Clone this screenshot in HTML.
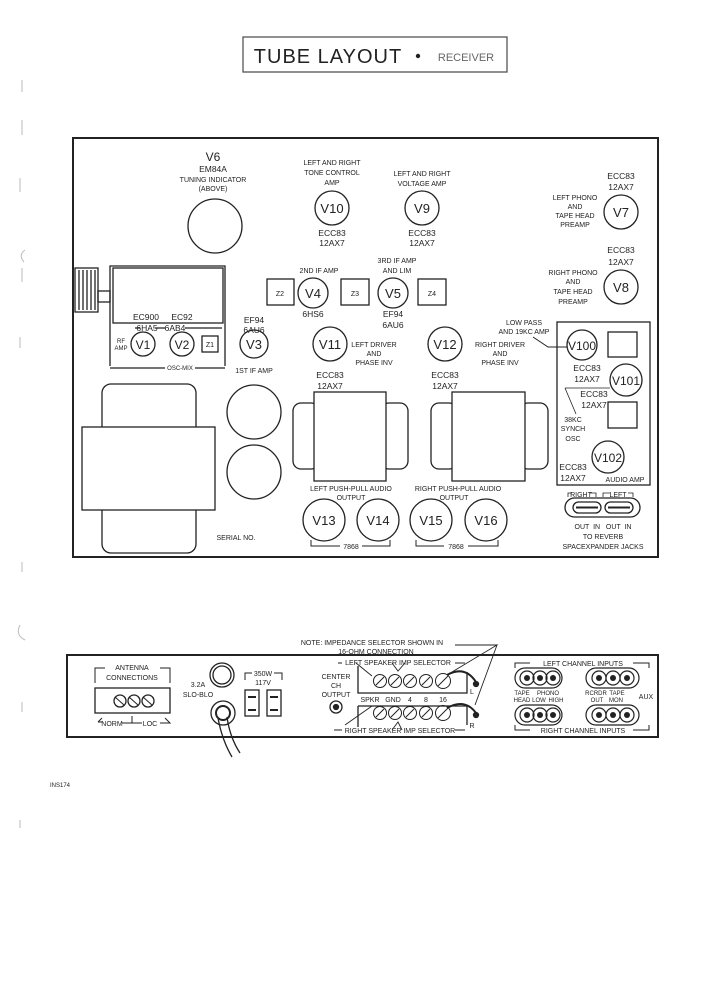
<!DOCTYPE html>
<html><head><meta charset="utf-8"><style>
html,body{margin:0;padding:0;background:#fff;}
svg{display:block;}
text{font-family:"Liberation Sans",sans-serif;fill:#222;text-anchor:middle;}
.s{font-size:7px;}
.t{font-size:6px;}
.m{font-size:8.5px;}
.v{font-size:13px;}
</style></head><body>
<svg width="707" height="1000" viewBox="0 0 707 1000" xmlns="http://www.w3.org/2000/svg">
<g fill="none" stroke="#222" stroke-width="1.3">
<rect x="243" y="37" width="264" height="35" stroke="#555"/>
<rect x="73" y="138" width="585" height="419" stroke-width="2"/>
<circle cx="215" cy="226" r="27"/>
<circle cx="332" cy="208" r="17"/>
<circle cx="422" cy="208" r="17"/>
<circle cx="621" cy="212" r="17"/>
<circle cx="621" cy="287" r="17"/>
<rect x="267" y="279" width="27" height="26"/>
<circle cx="313" cy="293" r="15"/>
<rect x="341" y="279" width="28" height="26"/>
<circle cx="393" cy="293" r="15"/>
<rect x="418" y="279" width="28" height="26"/>
<path d="M110 366 V266 H225 V366"/>
<path d="M110 368 H165 M195 368 H225"/>
<rect x="113" y="268" width="110" height="55"/>
<path d="M135 328 H140 M155 328 H165 M185 328 H222"/>
<rect x="75" y="268" width="23" height="44"/>
<path d="M79 270 V310 M83 270 V310 M87 270 V310 M91 270 V310 M95 270 V310"/>
<rect x="98" y="291" width="12" height="11"/>
<circle cx="143" cy="344" r="12"/>
<circle cx="182" cy="344" r="12"/>
<rect x="202" y="336" width="16" height="16"/>
<circle cx="254" cy="344" r="14"/>
<circle cx="330" cy="344" r="17"/>
<circle cx="445" cy="344" r="17"/>
<rect x="557" y="322" width="93" height="163"/>
<circle cx="582" cy="345" r="15"/>
<rect x="608" y="332" width="29" height="25"/>
<circle cx="626" cy="380" r="16"/>
<rect x="608" y="402" width="29" height="26"/>
<circle cx="608" cy="457" r="16"/>
<path d="M533 337 L548 347 H567" stroke-width="1"/>
<path d="M565 388 H610 M565 388 L576 414" stroke-width="0.8"/>
<rect x="102" y="384" width="94" height="169" rx="9"/>
<rect x="82" y="427" width="133" height="83" fill="#fff"/>
<circle cx="254" cy="412" r="27"/>
<circle cx="254" cy="472" r="27"/>
<rect x="293" y="403" width="26" height="66" rx="8"/>
<rect x="381" y="403" width="27" height="66" rx="8"/>
<rect x="314" y="392" width="72" height="89" fill="#fff"/>
<rect x="431" y="403" width="26" height="66" rx="8"/>
<rect x="520" y="403" width="28" height="66" rx="8"/>
<rect x="452" y="392" width="73" height="89" fill="#fff"/>
<circle cx="324" cy="520" r="21"/>
<circle cx="378" cy="520" r="21"/>
<circle cx="431" cy="520" r="21"/>
<circle cx="486" cy="520" r="21"/>
<path d="M311 540 V546 H340 M362 546 H390 V540" stroke-width="1"/>
<path d="M416 540 V546 H444 M468 546 H498 V540" stroke-width="1"/>
<rect x="565" y="498" width="75" height="19" rx="9.5"/>
<rect x="573" y="502" width="28" height="11" rx="5.5"/>
<rect x="605" y="502" width="28" height="11" rx="5.5"/>
<path d="M576 507.5 H598 M608 507.5 H630" stroke-width="2"/>
<path d="M568 497 V493 H572 M590 493 H596 V497 M603 497 V493 H610 M628 493 H633 V497" stroke-width="0.8"/>

<rect x="67" y="655" width="591" height="82" stroke-width="2"/>
<path d="M95 683 V668 H105 M160 668 H170 V683" stroke-width="1"/>
<rect x="95" y="688" width="75" height="25"/>
<circle cx="120" cy="701" r="6"/><circle cx="134" cy="701" r="6"/><circle cx="148" cy="701" r="6"/>
<path d="M115 697 L124 705 M129 697 L138 705 M143 697 L152 705" stroke-width="1"/>
<path d="M98 722 L102 718 M98 722 H102 M122 723 H142 M132 723 V716 M160 723 H170 L165 718" stroke-width="1"/>
<circle cx="222" cy="675" r="12"/><circle cx="222" cy="675" r="9"/>
<circle cx="223" cy="713" r="12"/><circle cx="223" cy="713" r="7" stroke-width="2"/>
<path d="M218 718 Q222 740 232 757 M227 717 Q230 738 240 753" />
<path d="M245 680 V673 H252 M274 673 H282 V680" stroke-width="1"/>
<rect x="245" y="690" width="14" height="26"/>
<rect x="267" y="690" width="14" height="26"/>
<path d="M248 697 H256 M248 710 H256 M270 697 H278 M270 710 H278" stroke-width="2"/>
<circle cx="336" cy="707" r="6"/><circle cx="336" cy="707" r="2.5" fill="#222"/>
<path d="M358 666 V693 H467 V672"/>
<path d="M358 706 H467 V725 M358 706 V727"/>
<g stroke-width="1">
<circle cx="380" cy="681" r="6.5"/><circle cx="395" cy="681" r="6.5"/><circle cx="410" cy="681" r="6.5"/><circle cx="426" cy="681" r="6.5"/><circle cx="443" cy="681" r="7.5"/>
<circle cx="380" cy="713" r="6.5"/><circle cx="395" cy="713" r="6.5"/><circle cx="410" cy="713" r="6.5"/><circle cx="426" cy="713" r="6.5"/><circle cx="443" cy="713" r="7.5"/>
<path d="M376 685 L384 677 M391 685 L399 677 M406 685 L414 677 M422 685 L430 677 M438 686 L448 676 M376 717 L384 709 M391 717 L399 709 M406 717 L414 709 M422 717 L430 709 M438 718 L448 708"/>
</g>
<path d="M447 675 Q465 665 476 682" stroke-width="2"/>
<circle cx="476" cy="684" r="2.5" fill="#222"/>
<path d="M447 708 Q465 698 476 713" stroke-width="2"/>
<circle cx="476" cy="715" r="2.5" fill="#222"/>
<path d="M455 645 H497 L447 675 M497 645 L475 705" stroke-width="0.9"/>
<path d="M338 663 H342 M356 663 L372 676 M405 663 L398 671 L392 663 M455 663 H465" stroke-width="0.9"/>
<path d="M334 730 H342 M372 706 L345 725 M402 730 L398 722 L392 730 M465 730 H455" stroke-width="0.9"/>
<path d="M515 668 V663 H530 M633 663 H649 V668" stroke-width="1"/>
<path d="M515 725 V730 H530 M633 730 H649 V725" stroke-width="1"/>
<g stroke-width="1.2">
<rect x="515" y="668" width="47" height="20" rx="10"/>
<rect x="586" y="668" width="53" height="20" rx="10"/>
<rect x="515" y="705" width="47" height="20" rx="10"/>
<rect x="586" y="705" width="53" height="20" rx="10"/>
<circle cx="527" cy="678" r="7"/><circle cx="540" cy="678" r="7"/><circle cx="553" cy="678" r="7"/>
<circle cx="599" cy="678" r="7"/><circle cx="613" cy="678" r="7"/><circle cx="627" cy="678" r="7"/>
<circle cx="527" cy="715" r="7"/><circle cx="540" cy="715" r="7"/><circle cx="553" cy="715" r="7"/>
<circle cx="599" cy="715" r="7"/><circle cx="613" cy="715" r="7"/><circle cx="627" cy="715" r="7"/>
</g>
<g fill="#222" stroke="none">
<circle cx="527" cy="678" r="3"/><circle cx="540" cy="678" r="3"/><circle cx="553" cy="678" r="3"/>
<circle cx="599" cy="678" r="3"/><circle cx="613" cy="678" r="3"/><circle cx="627" cy="678" r="3"/>
<circle cx="527" cy="715" r="3"/><circle cx="540" cy="715" r="3"/><circle cx="553" cy="715" r="3"/>
<circle cx="599" cy="715" r="3"/><circle cx="613" cy="715" r="3"/><circle cx="627" cy="715" r="3"/>
<circle cx="418" cy="56" r="2.2"/>
</g>
<g stroke="#bbb" stroke-width="1">
<path d="M22 80 V92 M22 120 V135 M20 178 V192 M22 268 V282 M20 337 V348 M25 250 Q18 255 24 262 M20 625 Q15 635 25 640 M22 562 V572 M22 702 V712 M20 820 V828"/>
</g>
</g>

<text x="328" y="63" style="font-size:20px;letter-spacing:1px">TUBE LAYOUT</text>
<text x="466" y="61" style="font-size:11px;fill:#666">RECEIVER</text>

<text x="213" y="161" class="v" style="font-size:12px">V6</text>
<text x="213" y="172" class="m">EM84A</text>
<text x="213" y="182" class="s">TUNING INDICATOR</text>
<text x="213" y="191" class="s">(ABOVE)</text>

<text x="332" y="165" class="s">LEFT AND RIGHT</text>
<text x="332" y="175" class="s">TONE CONTROL</text>
<text x="332" y="185" class="s">AMP</text>
<text x="332" y="213" class="v">V10</text>
<text x="332" y="236" class="m">ECC83</text>
<text x="332" y="246" class="m">12AX7</text>

<text x="422" y="176" class="s">LEFT AND RIGHT</text>
<text x="422" y="186" class="s">VOLTAGE AMP</text>
<text x="422" y="213" class="v">V9</text>
<text x="422" y="236" class="m">ECC83</text>
<text x="422" y="246" class="m">12AX7</text>

<text x="621" y="179" class="m">ECC83</text>
<text x="621" y="190" class="m">12AX7</text>
<text x="575" y="200" class="s">LEFT PHONO</text>
<text x="575" y="209" class="s">AND</text>
<text x="575" y="218" class="s">TAPE HEAD</text>
<text x="575" y="227" class="s">PREAMP</text>
<text x="621" y="217" class="v">V7</text>

<text x="621" y="253" class="m">ECC83</text>
<text x="621" y="265" class="m">12AX7</text>
<text x="573" y="275" class="s">RIGHT PHONO</text>
<text x="573" y="284" class="s">AND</text>
<text x="573" y="294" class="s">TAPE HEAD</text>
<text x="573" y="304" class="s">PREAMP</text>
<text x="621" y="292" class="v">V8</text>

<text x="319" y="273" class="s">2ND IF AMP</text>
<text x="397" y="263" class="s">3RD IF AMP</text>
<text x="397" y="273" class="s">AND LIM</text>
<text x="280" y="296" class="s">Z2</text>
<text x="313" y="298" class="v">V4</text>
<text x="355" y="296" class="s">Z3</text>
<text x="393" y="298" class="v">V5</text>
<text x="432" y="296" class="s">Z4</text>
<text x="313" y="317" class="m">6HS6</text>
<text x="393" y="317" class="m">EF94</text>
<text x="393" y="328" class="m">6AU6</text>

<text x="146" y="320" class="m">EC900</text>
<text x="182" y="320" class="m">EC92</text>
<text x="147" y="331" class="m">6HA5</text>
<text x="175" y="331" class="m">6AB4</text>
<text x="121" y="343" class="t">RF</text>
<text x="121" y="350" class="t">AMP</text>
<text x="143" y="349" class="v" style="font-size:12px">V1</text>
<text x="182" y="349" class="v" style="font-size:12px">V2</text>
<text x="210" y="347" class="s">Z1</text>
<text x="180" y="370" class="t">OSC-MIX</text>
<text x="254" y="323" class="m">EF94</text>
<text x="254" y="333" class="m">6AU6</text>
<text x="254" y="349" class="v">V3</text>
<text x="254" y="373" class="s">1ST IF AMP</text>

<text x="330" y="349" class="v">V11</text>
<text x="374" y="347" class="s">LEFT DRIVER</text>
<text x="374" y="356" class="s">AND</text>
<text x="374" y="365" class="s">PHASE INV</text>
<text x="330" y="378" class="m">ECC83</text>
<text x="330" y="389" class="m">12AX7</text>
<text x="445" y="349" class="v">V12</text>
<text x="500" y="347" class="s">RIGHT DRIVER</text>
<text x="500" y="356" class="s">AND</text>
<text x="500" y="365" class="s">PHASE INV</text>
<text x="445" y="378" class="m">ECC83</text>
<text x="445" y="389" class="m">12AX7</text>

<text x="524" y="325" class="s">LOW PASS</text>
<text x="524" y="334" class="s">AND 19KC AMP</text>
<text x="582" y="350" class="v" style="font-size:12px">V100</text>
<text x="587" y="371" class="m">ECC83</text>
<text x="587" y="382" class="m">12AX7</text>
<text x="626" y="385" class="v" style="font-size:12px">V101</text>
<text x="594" y="397" class="m">ECC83</text>
<text x="594" y="408" class="m">12AX7</text>
<text x="573" y="422" class="s">38KC</text>
<text x="573" y="431" class="s">SYNCH</text>
<text x="573" y="441" class="s">OSC</text>
<text x="608" y="462" class="v" style="font-size:12px">V102</text>
<text x="573" y="470" class="m">ECC83</text>
<text x="573" y="481" class="m">12AX7</text>
<text x="625" y="482" class="s">AUDIO AMP</text>

<text x="351" y="491" class="s">LEFT PUSH-PULL AUDIO</text>
<text x="351" y="500" class="s">OUTPUT</text>
<text x="458" y="491" class="s">RIGHT PUSH-PULL AUDIO</text>
<text x="454" y="500" class="s">OUTPUT</text>
<text x="324" y="525" class="v">V13</text>
<text x="378" y="525" class="v">V14</text>
<text x="431" y="525" class="v">V15</text>
<text x="486" y="525" class="v">V16</text>
<text x="351" y="549" class="s">7868</text>
<text x="456" y="549" class="s">7868</text>
<text x="236" y="540" class="s">SERIAL NO.</text>

<text x="581" y="497" class="s">RIGHT</text>
<text x="618" y="497" class="s">LEFT</text>
<text x="603" y="529" class="s">OUT &#160;IN &#160; OUT &#160;IN</text>
<text x="603" y="539" class="s">TO REVERB</text>
<text x="603" y="549" class="s">SPACEXPANDER JACKS</text>

<text x="372" y="645" class="s">NOTE: IMPEDANCE SELECTOR SHOWN IN</text>
<text x="376" y="654" class="s">16-OHM CONNECTION</text>
<text x="132" y="670" class="s">ANTENNA</text>
<text x="132" y="680" class="s">CONNECTIONS</text>
<text x="112" y="726" class="s">NORM</text>
<text x="150" y="726" class="s">LOC</text>
<text x="198" y="687" class="s">3.2A</text>
<text x="198" y="697" class="s">SLO-BLO</text>
<text x="263" y="676" class="s">350W</text>
<text x="263" y="685" class="s">117V</text>
<text x="336" y="679" class="s">CENTER</text>
<text x="336" y="688" class="s">CH</text>
<text x="336" y="697" class="s">OUTPUT</text>
<text x="398" y="665" class="s">LEFT SPEAKER IMP SELECTOR</text>
<text x="400" y="733" class="s">RIGHT SPEAKER IMP SELECTOR</text>
<text x="370" y="702" class="s">SPKR</text>
<text x="393" y="702" class="s">GND</text>
<text x="410" y="702" class="s">4</text>
<text x="426" y="702" class="s">8</text>
<text x="443" y="702" class="s">16</text>
<text x="472" y="694" class="s">L</text>
<text x="472" y="728" class="s">R</text>
<text x="583" y="666" class="s">LEFT CHANNEL INPUTS</text>
<text x="583" y="733" class="s">RIGHT CHANNEL INPUTS</text>
<text x="522" y="695" class="t">TAPE</text>
<text x="548" y="695" class="t">PHONO</text>
<text x="522" y="702" class="t">HEAD</text>
<text x="539" y="702" class="t">LOW</text>
<text x="556" y="702" class="t">HIGH</text>
<text x="596" y="695" class="t">RCRDR</text>
<text x="617" y="695" class="t">TAPE</text>
<text x="597" y="702" class="t">OUT</text>
<text x="616" y="702" class="t">MON</text>
<text x="646" y="699" class="s">AUX</text>
<text x="60" y="787" class="t">INS174</text>
</svg>
</body></html>
